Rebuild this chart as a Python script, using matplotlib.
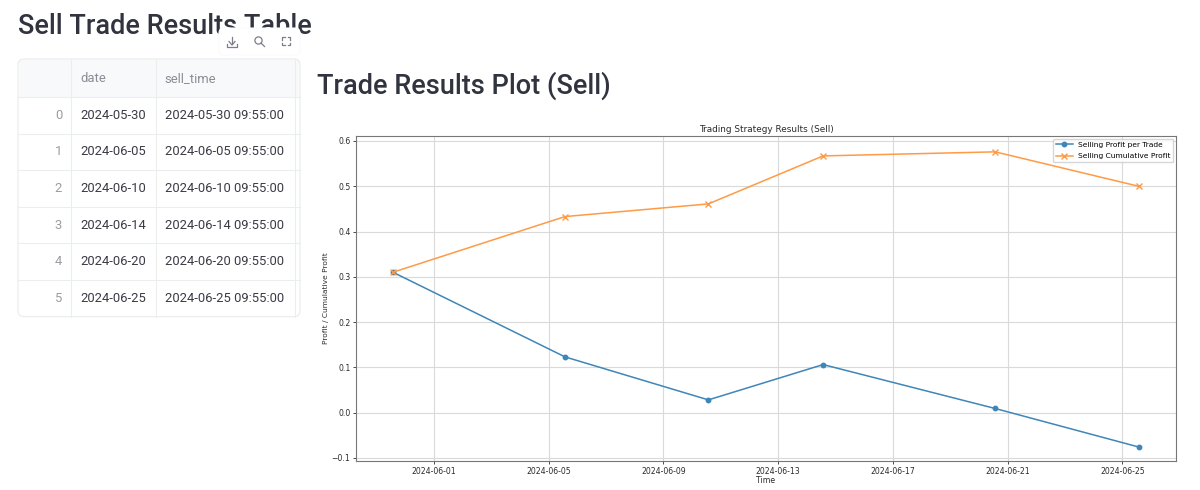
import matplotlib
matplotlib.use("Agg")
import matplotlib.pyplot as plt
import matplotlib.dates as mdates
from matplotlib.patches import FancyBboxPatch, Rectangle, Circle
import pandas as pd

# datos
fechas = ["2024-05-30", "2024-06-05", "2024-06-10", "2024-06-14", "2024-06-20", "2024-06-25"]
horas = ["2024-05-30 09:55:00", "2024-06-05 09:55:00", "2024-06-10 09:55:00",
         "2024-06-14 09:55:00", "2024-06-20 09:55:00", "2024-06-25 09:55:00"]
# en la grafica los puntos caen un poco despues de la hora de la tabla
tiempos = ["2024-05-30 13:40", "2024-06-05 13:40", "2024-06-10 13:40",
           "2024-06-14 13:40", "2024-06-20 13:40", "2024-06-25 13:40"]
profit = [0.31, 0.123, 0.028, 0.106, 0.009, -0.076]
acumulado = [0.31, 0.433, 0.461, 0.567, 0.576, 0.50]
columnas = ["date", "sell_time"]

W, H = 1200, 490
fig = plt.figure(figsize=(12, 4.9), dpi=100)
plt.rcParams['font.family'] = ['DejaVu Sans']

# capa de fondo en pixeles para tabla y titulos
capa = fig.add_axes([0, 0, 1, 1])
capa.set_xlim(0, W)
capa.set_ylim(H, 0)
capa.axis("off")

FUENTE = ["Roboto", "DejaVu Sans"]
capa.text(18, 26, "Sell Trade Results Table", fontsize=19.5, color="#31333f", family=FUENTE,
          va="center", fontweight="medium")
capa.text(317, 86, "Trade Results Plot (Sell)", fontsize=19.5, color="#31333f", family=FUENTE,
          va="center", fontweight="medium")

# tabla
x0, x1, x2, x3 = 18, 71, 156, 300
y0 = 59
alto_cab = 38
alto_fila = 36.6
y_fin = y0 + alto_cab + alto_fila * len(fechas)
borde = "#eceded"
capa.add_patch(Rectangle((x0 + 1, y0 + 1), x3 - x0 - 2, alto_cab - 1, fc="#f8f9fb", ec="none"))
capa.add_patch(FancyBboxPatch((x0 + 6, y0 + 6), x3 - x0 - 12, y_fin - y0 - 12,
                              boxstyle="round,pad=6", fc="none", ec=borde, lw=0.9))
for xv in (x1, x2, 295):
    capa.plot([xv, xv], [y0, y_fin], color=borde, lw=0.8)
for i in range(len(fechas) + 1):
    yv = y0 + alto_cab + alto_fila * i
    if i < len(fechas):
        capa.plot([x0, x3], [yv, yv], color=borde, lw=0.8)

capa.text(x1 + 9, y0 + 19.5, columnas[0], fontsize=9.4, color="#8a8d96", family=FUENTE, va="center")
capa.text(x2 + 8, y0 + 19.5, columnas[1], fontsize=9.4, color="#8a8d96", family=FUENTE, va="center")
for i, (f, h) in enumerate(zip(fechas, horas)):
    yv = y0 + alto_cab + alto_fila * (i + 0.5)
    capa.text(62, yv, str(i), fontsize=9.4, color="#9a9ca3", family=FUENTE, ha="right", va="center")
    capa.text(x1 + 9, yv, f, fontsize=9.4, color="#3a3b45", family=FUENTE, va="center")
    capa.text(x2 + 9, yv, h, fontsize=9.4, color="#3a3b45", family=FUENTE, va="center")

# barra de iconos encima de la tabla
capa.add_patch(FancyBboxPatch((224, 33), 71, 17, boxstyle="round,pad=5", fc="white",
                              ec="#fafafb", lw=0.8, zorder=5))
gris = "#7d7f88"
capa.plot([232, 232], [37, 44], color=gris, lw=0.9, zorder=6)
capa.plot([229, 232, 235], [41.5, 45, 41.5], color=gris, lw=0.9, zorder=6)
capa.plot([227, 227, 237, 237], [44, 47, 47, 44], color=gris, lw=0.9, zorder=6)
capa.add_patch(Circle((258.5, 40.5), 3.6, fc="none", ec=gris, lw=0.9, zorder=6))
capa.plot([261, 264.5], [43, 46.5], color=gris, lw=0.9, zorder=6)
for sx, sy in ((-1, -1), (1, -1), (-1, 1), (1, 1)):
    cx, cy = 286 + sx * 4, 41.5 + sy * 4
    capa.plot([cx - sx * 2.5, cx, cx], [cy, cy, cy - sy * 2.5], color=gris, lw=0.9, zorder=6)

# grafica
izq, der, arr, aba = 356, 1176, 136, 461
ax = fig.add_axes([izq / W, 1 - aba / H, (der - izq) / W, (aba - arr) / H])
t = pd.to_datetime(tiempos)
ax.plot(t, profit, marker="o", markersize=3.2, lw=1.1, color="#3f86b8", label="Selling Profit per Trade")
ax.plot(t, acumulado, marker="x", markersize=4, lw=1.1, color="#ff9a45", label="Selling Cumulative Profit")
ax.set_xlim(pd.Timestamp("2024-05-29 06:45"), pd.Timestamp("2024-06-26 21:00"))
ax.set_ylim(-0.107, 0.611)
ax.xaxis.set_major_locator(mdates.DayLocator(bymonthday=[1, 5, 9, 13, 17, 21, 25]))
ax.xaxis.set_major_formatter(mdates.DateFormatter("%Y-%m-%d"))
ax.grid(True, color="#dadada", lw=0.8)
ax.tick_params(labelsize=5.6, length=2, width=0.6, pad=2, colors="#2b2b2b")
for s in ax.spines.values():
    s.set_color("#777777")
    s.set_linewidth(0.8)
ax.set_title("Trading Strategy Results (Sell)", fontsize=6.4, pad=3, color="#2b2b2b")
ax.set_xlabel("Time", fontsize=5.6, labelpad=0.5, color="#2b2b2b")
ax.set_ylabel("Profit / Cumulative Profit", fontsize=5.4, labelpad=2, color="#2b2b2b")
ax.legend(loc="upper right", fontsize=5.4, borderaxespad=0.35, handlelength=2.2,
          labelspacing=0.7, borderpad=0.4, handletextpad=0.7)

fig.savefig("out.png", dpi=100)
